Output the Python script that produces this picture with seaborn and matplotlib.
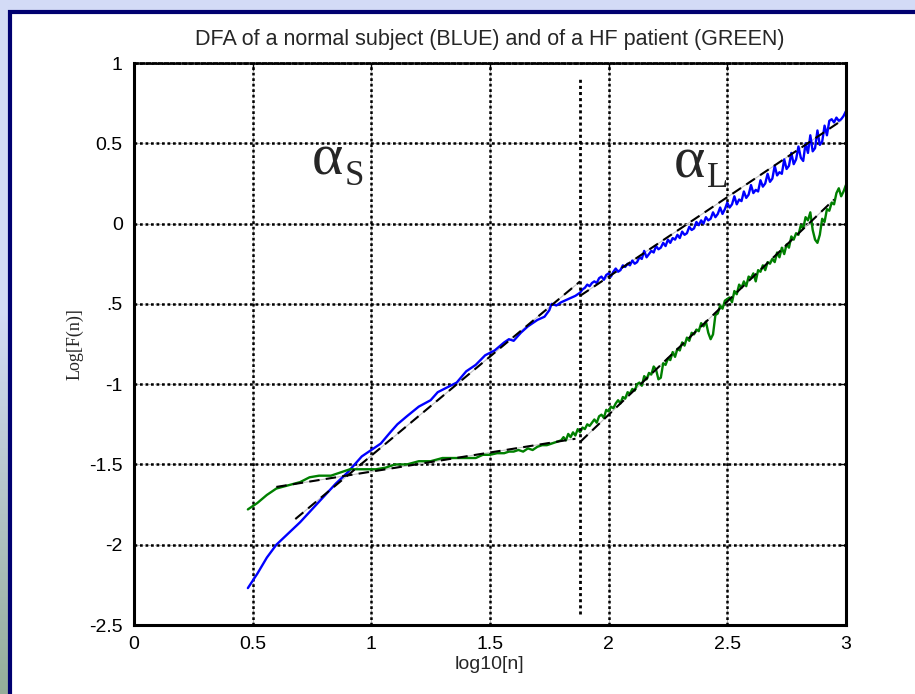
import numpy as np
import pandas as pd
import matplotlib
matplotlib.use('Agg')
import matplotlib.pyplot as plt
import seaborn as sns
from matplotlib.patches import Rectangle

# --- datos (log10[n], Log[F(n)]) ---
# sujeto normal (azul), tramo corto
azul_x_corto = [0.48, 0.52, 0.56, 0.60, 0.65, 0.70, 0.75, 0.80, 0.85, 0.90, 0.93, 0.96,
                1.00, 1.04, 1.08, 1.11, 1.15, 1.20, 1.25, 1.28, 1.32, 1.36, 1.40, 1.44,
                1.48, 1.52, 1.56, 1.58, 1.60, 1.63, 1.66, 1.68, 1.70, 1.73, 1.75, 1.76,
                1.78, 1.80, 1.83, 1.86, 1.88]
azul_y_corto = [-2.27, -2.18, -2.08, -2.00, -1.93, -1.86, -1.78, -1.70, -1.62, -1.55, -1.50, -1.45,
                -1.41, -1.37, -1.30, -1.25, -1.20, -1.14, -1.10, -1.05, -1.02, -0.99, -0.92, -0.88,
                -0.82, -0.79, -0.74, -0.72, -0.73, -0.68, -0.64, -0.62, -0.60, -0.58, -0.54, -0.50,
                -0.51, -0.49, -0.47, -0.45, -0.43]

# tramo largo: un punto cada 0.01 desde 1.89 hasta 3.00
x_largo = np.round(np.arange(189, 301) / 100, 2)
azul_y_largo = [-0.41, -0.40, -0.38, -0.39, -0.37, -0.36, -0.37, -0.34, -0.33, -0.35,
                -0.32, -0.31, -0.33, -0.30, -0.28, -0.30, -0.29, -0.26, -0.27, -0.25,
                -0.26, -0.23, -0.25, -0.24, -0.21, -0.22, -0.17, -0.21, -0.19, -0.17,
                -0.18, -0.14, -0.16, -0.15, -0.12, -0.14, -0.10, -0.12, -0.09, -0.10,
                -0.07, -0.09, -0.05, -0.07, -0.06, -0.02, -0.04, -0.03, 0.01, -0.01,
                0.02, 0.00, 0.04, 0.02, 0.03, 0.07, 0.04, 0.06, 0.10, 0.06,
                0.09, 0.13, 0.10, 0.12, 0.17, 0.12, 0.15, 0.14, 0.20, 0.16,
                0.18, 0.24, 0.19, 0.21, 0.20, 0.27, 0.23, 0.25, 0.31, 0.26,
                0.28, 0.36, 0.30, 0.32, 0.31, 0.40, 0.34, 0.36, 0.44, 0.37,
                0.40, 0.48, 0.41, 0.39, 0.50, 0.44, 0.55, 0.45, 0.47, 0.58,
                0.49, 0.51, 0.61, 0.55, 0.64, 0.65, 0.63, 0.66, 0.64, 0.65,
                0.67, 0.70]

# paciente HF (verde), tramo corto
verde_x_corto = [0.48, 0.52, 0.56, 0.60, 0.65, 0.70, 0.74, 0.78, 0.83, 0.87, 0.91, 0.96,
                 1.02, 1.06, 1.10, 1.15, 1.20, 1.25, 1.30, 1.35, 1.40, 1.44, 1.47, 1.50,
                 1.53, 1.56, 1.58, 1.60, 1.62, 1.64, 1.66, 1.68, 1.70, 1.72, 1.74, 1.76,
                 1.78, 1.80, 1.81, 1.82, 1.83, 1.84, 1.85, 1.86, 1.87, 1.88]
verde_y_corto = [-1.78, -1.74, -1.69, -1.65, -1.63, -1.61, -1.58, -1.57, -1.57, -1.55, -1.53, -1.53,
                 -1.53, -1.52, -1.50, -1.50, -1.48, -1.48, -1.46, -1.46, -1.46, -1.46, -1.44, -1.44,
                 -1.43, -1.43, -1.42, -1.42, -1.41, -1.42, -1.40, -1.41, -1.39, -1.38, -1.38, -1.37,
                 -1.36, -1.35, -1.33, -1.35, -1.31, -1.33, -1.30, -1.32, -1.28, -1.30]
verde_y_largo = [-1.27, -1.28, -1.25, -1.26, -1.24, -1.22, -1.24, -1.20, -1.19, -1.21,
                 -1.16, -1.17, -1.14, -1.15, -1.12, -1.10, -1.12, -1.08, -1.09, -1.05,
                 -1.06, -1.03, -1.04, -1.00, -0.99, -1.01, -0.95, -0.97, -0.93, -0.94,
                 -0.89, -0.91, -0.97, -0.96, -0.87, -0.88, -0.84, -0.85, -0.80, -0.83,
                 -0.78, -0.79, -0.74, -0.76, -0.71, -0.73, -0.68, -0.69, -0.66, -0.67,
                 -0.62, -0.64, -0.61, -0.68, -0.72, -0.69, -0.57, -0.56, -0.51, -0.53,
                 -0.48, -0.47, -0.46, -0.49, -0.42, -0.44, -0.38, -0.40, -0.36, -0.39,
                 -0.33, -0.34, -0.31, -0.36, -0.29, -0.30, -0.26, -0.29, -0.24, -0.25,
                 -0.22, -0.24, -0.18, -0.21, -0.15, -0.19, -0.13, -0.15, -0.08, -0.10,
                 -0.06, -0.07, -0.01, -0.03, 0.04, 0.02, 0.07, -0.04, -0.10, -0.12,
                 -0.07, 0.03, 0.01, 0.09, 0.08, 0.13, 0.12, 0.19, 0.22, 0.17,
                 0.20, 0.24]

# rectas de ajuste (alfa corto y alfa largo)
ajuste_azul_corto_x = [0.68, 1.88]
ajuste_azul_corto_y = [-1.84, -0.36]
ajuste_azul_largo_x = [1.88, 2.98]
ajuste_azul_largo_y = [-0.45, 0.64]
ajuste_verde_corto_x = [0.60, 1.86]
ajuste_verde_corto_y = [-1.64, -1.34]
ajuste_verde_largo_x = [1.88, 2.95]
ajuste_verde_largo_y = [-1.36, 0.15]

corte_x = 1.88
corte_y = [-2.43, 0.90]

x_ticks = [0, 0.5, 1, 1.5, 2, 2.5, 3]
x_labels = ['0', '0.5', '1', '1.5', '2', '2.5', '3']
y_ticks = [-2.5, -2, -1.5, -1, -0.5, 0, 0.5, 1]
y_labels = ['-2.5', '-2', '-1.5', '-1', '.5', '0', '0.5', '1']

azul = pd.DataFrame({'x': np.concatenate([azul_x_corto, x_largo]),
                     'y': np.concatenate([azul_y_corto, azul_y_largo])})
verde = pd.DataFrame({'x': np.concatenate([verde_x_corto, x_largo]),
                      'y': np.concatenate([verde_y_corto, verde_y_largo])})

sns.set_style('white')
plt.rcParams['font.family'] = ['Liberation Sans', 'DejaVu Sans']

fig = plt.figure(figsize=(9.15, 6.94), dpi=100)

# fondo con degradado y marco azul oscuro
fondo = fig.add_axes([0, 0, 1, 1], zorder=0)
arriba = np.array([0.83, 0.86, 0.965])
abajo = np.array([0.58, 0.68, 0.60])
t = np.clip((np.linspace(0, 1, 694) - 0.45) / 0.55, 0, 1)[:, None]
colores = arriba * (1 - t) + abajo * t
fondo.imshow(np.repeat(colores[:, None, :], 2, axis=1), extent=[0, 915, 694, 0], aspect='auto')
fondo.add_patch(Rectangle((10, 12), 1000, 1000, facecolor='white', edgecolor='#000070', lw=3))
fondo.set_xlim(0, 915)
fondo.set_ylim(694, 0)
fondo.axis('off')

ax = fig.add_axes([0.1464, 0.0994, 0.7781, 0.8098], zorder=1)
ax.set_facecolor('white')

# rejilla punteada (negra) con una linea gris debajo
for v in x_ticks:
    ax.axvline(v, color='#b8b8b8', lw=0.8, ls='-.', zorder=0.4)
for v in y_ticks:
    ax.axhline(v, color='#b8b8b8', lw=0.8, ls='-.', zorder=0.4)
ax.set_axisbelow(True)
ax.grid(True, color='black', linestyle=(0, (1.1, 1.1)), lw=1.8)

# rectas de ajuste
for fx, fy in [(ajuste_azul_corto_x, ajuste_azul_corto_y), (ajuste_azul_largo_x, ajuste_azul_largo_y),
               (ajuste_verde_corto_x, ajuste_verde_corto_y), (ajuste_verde_largo_x, ajuste_verde_largo_y)]:
    ax.plot(fx, fy, color='#c0c0c0', lw=0.8, zorder=1.5)
    ax.plot(fx, fy, color='black', lw=1.5, ls=(0, (5, 3)), zorder=3)

sns.lineplot(data=azul, x='x', y='y', color='#0000ff', lw=1.7, sort=False, estimator=None, ax=ax, zorder=2)
sns.lineplot(data=verde, x='x', y='y', color='#008000', lw=1.7, sort=False, estimator=None, ax=ax, zorder=2)

ax.plot([corte_x, corte_x], corte_y, color='black', lw=2, ls=(0, (1.1, 1.1)), zorder=2.5)

# etiquetas alfa
ax.text(0.75, 0.303, 'α', fontsize=43, family='Liberation Serif', ha='left', va='baseline')
ax.text(0.889, 0.24, 'S', fontsize=25, family='Liberation Serif', ha='left', va='baseline')
ax.text(2.275, 0.29, 'α', fontsize=43, family='Liberation Serif', ha='left', va='baseline')
ax.text(2.415, 0.228, 'L', fontsize=25, family='Liberation Serif', ha='left', va='baseline')

ax.set_xlim(0, 3)
ax.set_ylim(-2.5, 1)
ax.set_xticks(x_ticks)
ax.set_xticklabels(x_labels)
ax.set_yticks(y_ticks)
ax.set_yticklabels(y_labels)
ax.tick_params(direction='in', top=True, right=True, length=5, width=1, labelsize=14, pad=8, colors='black')

for lado in ['left', 'bottom', 'right']:
    ax.spines[lado].set_color('black')
    ax.spines[lado].set_linewidth(2.2)
ax.spines['top'].set_color('black')
ax.spines['top'].set_linewidth(2)
ax.spines['top'].set_linestyle((0, (1.1, 1.1)))

ax.set_title('DFA of a normal subject (BLUE) and of a HF patient (GREEN)', fontsize=15.5, pad=13)
ax.set_xlabel('log10[n]', fontsize=14, labelpad=2)
ax.set_ylabel('Log[F(n)]', fontsize=13, family='Liberation Serif', labelpad=4)

fig.savefig('out.png', dpi=100)
